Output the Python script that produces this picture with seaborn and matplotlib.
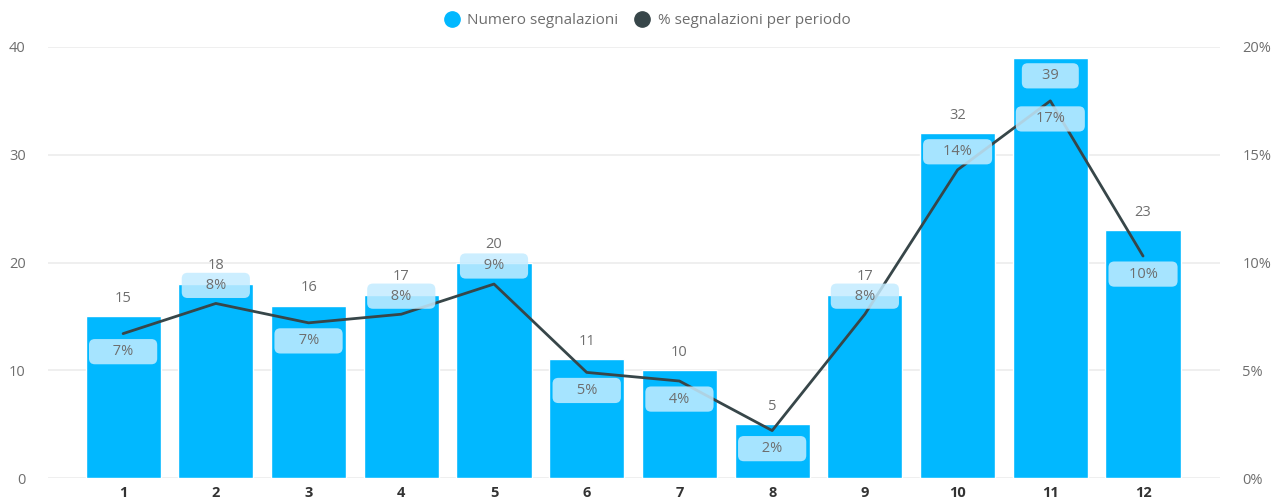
import numpy as np
import pandas as pd
import matplotlib
matplotlib.use("Agg")
import matplotlib.pyplot as plt
from matplotlib.lines import Line2D
import seaborn as sns

# data
periodi = ["1", "2", "3", "4", "5", "6", "7", "8", "9", "10", "11", "12"]
conteggi = [15, 18, 16, 17, 20, 11, 10, 5, 17, 32, 39, 23]
percentuali = [6.7, 8.1, 7.2, 7.6, 9.0, 4.9, 4.5, 2.2, 7.6, 14.3, 17.5, 10.3]
etichette_pct = ["7%", "8%", "7%", "8%", "9%", "5%", "4%", "2%", "8%", "14%", "17%", "10%"]

# where each % label sits relative to its point (style only)
pos_pct = ["below", "above", "below", "above", "above", "below",
           "below", "below", "above", "above", "below", "below"]

BAR_COLOR = "#01B8FF"
LINE_COLOR = "#374649"
PILL_COLOR = "#C4ECFF"
TEXT_GRAY = "#6E6E6E"

sns.set_theme(style="white")
plt.rcParams["font.family"] = ["Open Sans", "DejaVu Sans"]

df = pd.DataFrame({"periodo": periodi, "conteggio": conteggi, "pct": percentuali})
df["pos"] = np.arange(len(df))

fig = plt.figure(figsize=(12.74, 5.0), dpi=100)
ax = fig.add_axes([48 / 1274, 22 / 500, (1220 - 48) / 1274, 431 / 500])

sns.barplot(data=df, x="periodo", y="conteggio", color=BAR_COLOR, width=0.81,
            saturation=1, ax=ax, zorder=2)
ax.set_ylim(0, 40)
ax.set_xlim(-0.81, 11.83)
ax.set_yticks([0, 10, 20, 30, 40])
ax.yaxis.grid(True, color="#ECECEC", linewidth=1.2, zorder=0)
ax.set_axisbelow(True)
for s in ax.spines.values():
    s.set_visible(False)
ax.set_xlabel("")
ax.set_ylabel("")
ax.tick_params(axis="y", length=0, pad=16, labelsize=10.5, labelcolor=TEXT_GRAY)
ax.tick_params(axis="x", length=0, pad=6, labelsize=10.5, labelcolor="#333333")
for lab in ax.get_xticklabels():
    lab.set_fontweight("bold")

pill = dict(boxstyle="round,pad=0.35,rounding_size=0.4", fc=PILL_COLOR, ec="none", alpha=0.85)

# count labels above the bars
for i, v in enumerate(conteggi):
    if v >= 38:
        ax.annotate(f"    {v}    ", (i, v), xytext=(0, -13), textcoords="offset points",
                    ha="center", va="center", fontsize=10.5, color=TEXT_GRAY, zorder=6,
                    bbox=pill)
    else:
        ax.annotate(str(v), (i, v), xytext=(0, 13), textcoords="offset points",
                    ha="center", va="center", fontsize=10.5, color=TEXT_GRAY)

# percentage line on the secondary axis
ax2 = ax.twinx()
sns.lineplot(data=df, x="pos", y="pct", color=LINE_COLOR, linewidth=2, ax=ax2, zorder=3)
ax2.set_ylim(0, 20)
ax2.set_xlim(-0.81, 11.83)
ax2.set_yticks([0, 5, 10, 15, 20])
ax2.set_yticklabels([f"{t}%" for t in [0, 5, 10, 15, 20]])
ax2.set_ylabel("")
ax2.set_xlabel("")
for s in ax2.spines.values():
    s.set_visible(False)
ax2.tick_params(axis="y", length=0, pad=16, labelsize=10.5, labelcolor=TEXT_GRAY)

for i, (p, lab, where) in enumerate(zip(percentuali, etichette_pct, pos_pct)):
    dy = 13 if where == "above" else -13
    txt = f"     {lab}     " if len(lab) == 2 else f"    {lab}    "
    ax2.annotate(txt, (i, p), xytext=(0, dy), textcoords="offset points",
                 ha="center", va="center", fontsize=10.5, color=TEXT_GRAY, zorder=6,
                 bbox=pill)

# legend at the top
handles = [
    Line2D([], [], marker="o", linestyle="none", markersize=11,
           markerfacecolor=BAR_COLOR, markeredgecolor=BAR_COLOR, label="Numero segnalazioni"),
    Line2D([], [], marker="o", linestyle="none", markersize=11,
           markerfacecolor=LINE_COLOR, markeredgecolor=LINE_COLOR, label="% segnalazioni per periodo"),
]
fig.legend(handles=handles, loc="center", bbox_to_anchor=(0.505, 0.958), ncol=2,
           frameon=False, fontsize=11, handletextpad=0.0, columnspacing=0.6,
           labelcolor=TEXT_GRAY)

fig.savefig("out.png", dpi=100, facecolor="white")
